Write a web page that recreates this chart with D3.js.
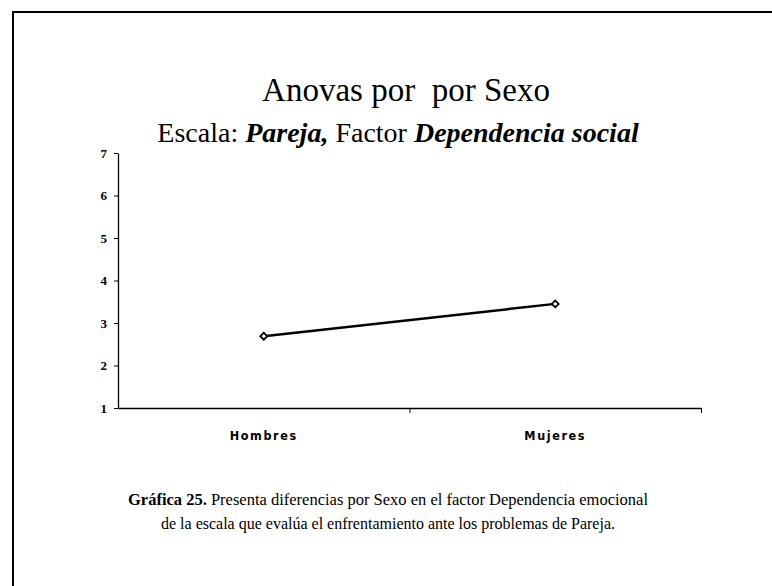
<!DOCTYPE html>
<html>
    <head>
        <title></title>
        <script src="https://d3js.org/d3.v7.min.js"></script>
    </head>

    <body style="margin:0; background:white;">
        <svg id="my_dataviz" width="772" height="586"></svg>
    </body>

    <script>
        // data
        var categories = ["Hombres", "Mujeres"]
        var means = [2.69, 3.45]
        var yTicks = [1, 2, 3, 4, 5, 6, 7]

        var margin = { top: 153, right: 71, bottom: 178, left: 118 }
        var width = 772 - margin.left - margin.right
        var height = 586 - margin.top - margin.bottom

        var serif = "'Liberation Serif', 'Times New Roman', serif"

        var root = d3.select("#my_dataviz")

        // frame of the scanned page (top and left edges only)
        root.append("path")
            .attr("d", "M13,586 L13,12 L772,12")
            .attr("fill", "none")
            .attr("stroke", "black")
            .attr("stroke-width", 2)

        // titles
        root.append("text")
            .attr("x", 406)
            .attr("y", 101)
            .attr("text-anchor", "middle")
            .attr("xml:space", "preserve")
            .style("font-family", serif)
            .style("font-size", "33px")
            .style("white-space", "pre")
            .text("Anovas por  por Sexo")

        var sub = root.append("text")
            .attr("x", 398)
            .attr("y", 142)
            .attr("text-anchor", "middle")
            .style("font-family", serif)
            .style("font-size", "28px")
        sub.append("tspan").text("Escala: ")
        sub.append("tspan").style("font-weight", "bold").style("font-style", "italic").text("Pareja,")
        sub.append("tspan").text(" Factor ")
        sub.append("tspan").style("font-weight", "bold").style("font-style", "italic").text("Dependencia social")

        var svg = root.append("g")
            .attr("transform", "translate(" + margin.left + "," + margin.top + ")")

        var y = d3.scaleLinear()
            .domain([1, 7])
            .range([height, 0])

        // positions of the two groups, centred in their halves
        var x = d3.scalePoint()
            .domain(categories)
            .range([0, width])
            .padding(0.5)

        // boundaries of the halves, where the ticks sit
        var xEdge = d3.scaleLinear()
            .domain([0, categories.length])
            .range([0, width])

        var yAxis = svg.append("g")
            .call(d3.axisLeft(y).tickValues(yTicks).tickSize(4).tickSizeOuter(0).tickFormat(d3.format("d")))
        yAxis.select(".domain").attr("stroke-width", 1.3)
        yAxis.selectAll("text")
            .style("font-family", serif)
            .style("font-weight", "bold")
            .style("font-size", "13px")
            .attr("x", -11)

        var xAxis = svg.append("g")
            .attr("transform", "translate(0," + height + ")")
            .call(d3.axisBottom(xEdge).tickValues([1, 2]).tickSize(5).tickSizeOuter(0).tickFormat(""))
        xAxis.select(".domain").attr("stroke-width", 1.3)

        svg.selectAll(".xlab")
            .data(categories)
            .enter()
            .append("text")
            .attr("class", "xlab")
            .attr("x", function(d) { return x(d) })
            .attr("y", height + 32)
            .attr("text-anchor", "middle")
            .style("font-family", "'DejaVu Sans Condensed', 'Liberation Sans'")
            .style("font-weight", "bold")
            .style("font-size", "12.5px")
            .style("letter-spacing", "1.6px")
            .text(function(d) { return d })

        // the line
        var pts = categories.map(function(c, i) { return { cat: c, value: means[i] } })

        svg.append("path")
            .datum(pts)
            .attr("fill", "none")
            .attr("stroke", "black")
            .attr("stroke-width", 2.5)
            .attr("d", d3.line()
                .x(function(d) { return x(d.cat) })
                .y(function(d) { return y(d.value) })
            )

        svg.selectAll(".pt")
            .data(pts)
            .enter()
            .append("path")
            .attr("class", "pt")
            .attr("d", d3.symbol().type(d3.symbolSquare).size(24))
            .attr("transform", function(d) { return "translate(" + x(d.cat) + "," + y(d.value) + ") rotate(45)" })
            .attr("fill", "white")
            .attr("stroke", "black")
            .attr("stroke-width", 1.8)

        // caption
        var cap = root.append("text")
            .attr("x", 388)
            .attr("y", 505)
            .attr("text-anchor", "middle")
            .style("font-family", serif)
            .style("font-size", "16.5px")
        cap.append("tspan").style("font-weight", "bold").text("Gráfica 25.")
        cap.append("tspan").text(" Presenta diferencias por Sexo en el factor Dependencia emocional")

        root.append("text")
            .attr("x", 388)
            .attr("y", 529)
            .attr("text-anchor", "middle")
            .style("font-family", serif)
            .style("font-size", "16px")
            .text("de la escala que evalúa el enfrentamiento ante los problemas de Pareja.")
    </script>
</html>
